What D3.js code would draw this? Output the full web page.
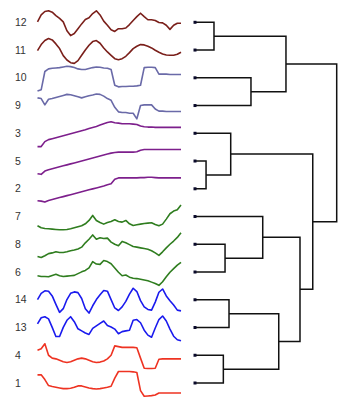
<!DOCTYPE html>
<html><head><meta charset="utf-8">
<script src="https://cdn.jsdelivr.net/npm/d3@7/dist/d3.min.js"></script>
<style>html,body{margin:0;padding:0;background:#fff;}svg{display:block;}</style>
</head><body>
<svg id="chart" width="355" height="412"></svg>
<script>
// Leaf order (top to bottom)
const leafLabels = ["12","11","10","9","3","5","2","7","8","6","14","13","4","1"];

// Linkage: [left, right, height]; internal nodes named n0, n1, ...
const linkage = [
  ["5","2",0.078],
  ["12","11",0.134],
  ["4","1",0.200],
  ["8","6",0.212],
  ["14","13",0.240],
  ["3","n0",0.252],
  ["10","9",0.395],
  ["7","n3",0.478],
  ["n4","n2",0.591],
  ["n1","n6",0.642],
  ["n7","n8",0.741],
  ["n5","n10",0.831],
  ["n9","n11",1.0]
];

// Series colours by leaf
const seriesColors = {
  "12":"#7a1f1a","11":"#7a1f1a",
  "10":"#6a6aa8","9":"#6a6aa8",
  "3":"#7d1f8c","5":"#7d1f8c","2":"#7d1f8c",
  "7":"#2f7d1f","8":"#2f7d1f","6":"#2f7d1f",
  "14":"#1a1aee","13":"#1a1aee",
  "4":"#ee3322","1":"#ee3322"
};

// Time series values
const s12 = [48,68,78,80,76,66,58,48,22,8,14,28,42,55,60,72,80,68,50,38,25,20,28,28,30,40,52,63,73,63,54,54,52,46,45,38,26,38,44,44];
const s11 = [42,60,72,78,74,62,48,27,14,6,4,12,28,44,58,69,72,64,50,38,28,18,15,18,25,36,48,55,60,59,55,50,43,37,32,29,28,28,31,37];
const s10 = [12,16,72,80,82,83,84,86,88,87,84,80,78,78,81,84,86,85,83,82,78,30,25,26,26,27,27,28,30,84,85,85,84,64,64,64,63,63,63,63];
const s9  = [67,65,47,63,65,68,71,74,77,76,73,70,67,70,73,75,78,77,72,65,60,40,27,25,25,23,23,7,45,47,47,47,35,29,29,28,28,28,28,28];
const s3  = [8,8,23,29,32,35,38,41,44,47,50,53,56,59,63,66,69,73,77,81,83,80,79,77,77,77,76,75,70,68,67,67,66,66,66,66,66,66,66,66];
const s5  = [6,4,14,18,21,24,27,30,33,36,39,42,45,48,51,54,57,60,63,66,69,71,72,72,72,72,72,73,78,80,80,80,80,80,80,80,80,80,80,80];
const s2  = [7,6,3,8,11,14,17,20,23,26,29,32,35,38,41,44,47,50,53,57,60,74,78,78,78,78,78,78,79,79,80,80,79,78,78,78,78,78,78,78];
const s7  = [17,11,9,8,7,6,5,5,6,8,11,14,17,23,33,48,33,27,22,27,30,35,30,28,33,23,18,20,22,24,25,26,21,17,22,37,53,61,65,79];
const s8  = [7,4,9,15,17,20,18,18,20,23,25,28,33,45,55,67,55,59,57,58,47,41,37,49,45,40,35,33,31,29,27,23,17,10,20,31,41,50,60,73];
const s6  = [30,28,28,27,31,34,30,28,29,30,31,36,41,45,52,70,63,62,73,70,64,52,40,30,32,26,23,22,20,18,16,12,8,3,13,27,40,50,60,68];
const s14 = [45,62,69,68,55,32,10,20,45,62,66,64,48,20,8,28,45,58,70,68,45,22,15,25,40,60,76,67,42,25,18,16,38,65,74,55,42,30,16,14];
const s13 = [55,72,75,69,45,19,19,45,65,75,61,41,35,29,25,42,49,56,63,50,46,40,27,33,35,37,65,67,58,37,23,17,43,67,77,63,40,20,10,7];
const s4  = [57,61,75,43,35,33,29,25,23,25,29,33,35,33,29,25,23,24,27,33,43,69,67,65,65,65,65,64,35,7,6,6,7,32,33,33,33,33,33,33];
const s1  = [72,72,58,40,37,35,33,31,31,32,35,39,39,36,33,31,30,31,33,35,38,62,82,82,82,82,81,79,25,8,9,10,12,18,18,18,18,18,18,18];

const seriesByLeaf = {"12":s12,"11":s11,"10":s10,"9":s9,"3":s3,"5":s5,"2":s2,"7":s7,"8":s8,"6":s6,"14":s14,"13":s13,"4":s4,"1":s1};

// ---- build hierarchy from linkage ----
const nodes = {};
leafLabels.forEach(l => nodes[l] = {name:l, h:0});
linkage.forEach((m,i) => {
  nodes["n"+i] = {name:"n"+i, h:m[2], children:[nodes[m[0]], nodes[m[1]]]};
});
const root = d3.hierarchy(nodes["n"+(linkage.length-1)]);

const svg = d3.select("#chart");

const yLeaf = d3.scalePoint().domain(leafLabels).range([22.3, 383]);
const xDist = d3.scaleLinear().domain([0, 1]).range([195, 336.7]);

// assign positions
root.eachAfter(n => {
  if (!n.children) n.py = yLeaf(n.data.name);
  else n.py = d3.mean(n.children, c => c.py);
  n.px = xDist(n.data.h);
});

// dendrogram elbows
const g = svg.append("g").attr("fill","none").attr("stroke","#111").attr("stroke-width",1.5);
root.descendants().filter(n => n.children).forEach(n => {
  const [a,b] = n.children;
  g.append("path").attr("d", `M${a.px},${a.py}H${n.px}V${b.py}H${b.px}`);
});

// leaf markers
svg.append("g").selectAll("rect").data(root.leaves()).join("rect")
  .attr("x", d => d.px - 1.5).attr("y", d => d.py - 1.5)
  .attr("width", 3).attr("height", 3).attr("fill", "#0a0a2a");

// sparklines
const xT = d3.scaleLinear().domain([0, s12.length - 1]).range([37.5, 181]);
leafLabels.forEach(l => {
  const vals = seriesByLeaf[l];
  const yc = yLeaf(l);
  const yS = d3.scaleLinear().domain(d3.extent(vals)).range([yc + 13.3, yc - 11.5]);
  const line = d3.line().x((d,i) => xT(i)).y(d => yS(d));
  svg.append("path").attr("d", line(vals)).attr("fill","none")
    .attr("stroke", seriesColors[l]).attr("stroke-width", 1.6)
    .attr("stroke-linejoin","round");
  svg.append("text").attr("x", 15).attr("y", yc + 3.7).text(l)
    .attr("font-family", "Liberation Sans, Arial, sans-serif")
    .attr("font-size", 10.5).attr("fill", "#333");
});
</script>
</body></html>
